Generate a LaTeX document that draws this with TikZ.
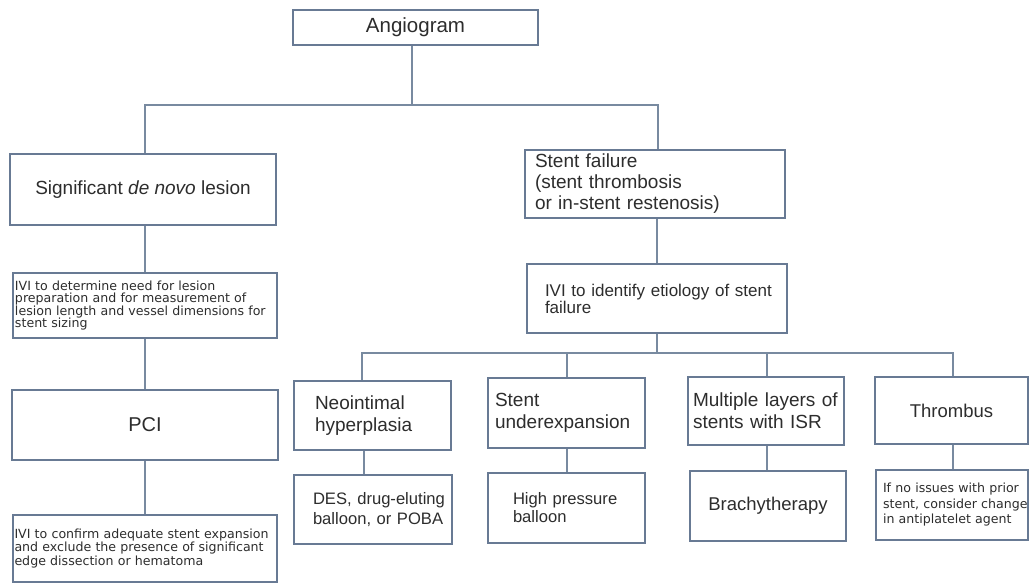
\documentclass[tikz,border=0pt]{standalone}
\usepackage{fontspec}
\setmainfont{Liberation Sans}
\newfontfamily\smallf{DejaVu Sans}
\definecolor{boxc}{RGB}{104,122,148}
\definecolor{linec}{RGB}{120,138,160}
\definecolor{txt}{RGB}{45,45,45}
\tikzset{
  bx/.style={draw=boxc, line width=1.4pt, fill=white, text=txt, inner ysep=0pt},
  cbox/.style 2 args={bx, minimum width=#1, minimum height=#2, inner xsep=0pt, align=center},
  lbox/.style n args={3}{bx, text width=#1, inner xsep=#2, minimum height=#3, align=left},
  conn/.style={draw=linec, line width=1.2pt},
  fmed/.style={font=\fontsize{19}{22}\selectfont},
}
\begin{document}
\begin{tikzpicture}[x=1pt,y=-1pt]
\useasboundingbox[fill=white] (0,0) rectangle (1029,585);
% nodes
\node[cbox={245pt}{35pt}, font=\fontsize{20.5}{22}\selectfont] (ang) at (415.5,27.5) {Angiogram};
\node[cbox={266pt}{71pt}, font=\fontsize{19}{21}\selectfont] (sig) at (143,189.5) {Significant \textit{de novo} lesion};
\node[lbox={260pt}{2pt}{65pt}, font=\smallf\fontsize{12.6}{12.2}\selectfont] (ivi1) at (145,305.5) {IVI to determine need for lesion\\preparation and for measurement of\\lesion length and vessel dimensions for\\stent sizing};
\node[cbox={266pt}{70pt}, font=\fontsize{20}{22}\selectfont] (pci) at (145,425) {PCI};
\node[lbox={261pt}{1.5pt}{67pt}, font=\smallf\fontsize{12.6}{13.2}\selectfont] (ivi2) at (145,548.5) {IVI to confirm adequate stent expansion\\and exclude the presence of significant\\edge dissection or hematoma};
\node[lbox={240pt}{10pt}{68pt}, font=\fontsize{19}{21}\selectfont] (sf) at (655,184) {Stent failure\\(stent thrombosis\\or in-stent restenosis)};
\node[lbox={224pt}{18pt}{69pt}, font=\fontsize{17}{17}\selectfont] (ivi3) at (657,298.5) {\mbox{IVI to identify etiology of stent}\\failure};
\node[lbox={115pt}{21pt}{69pt}, fmed] (neo) at (372.5,415.5) {Neointimal\\hyperplasia};
\node[lbox={120pt}{19pt}{69pt}, font=\fontsize{16.6}{20}\selectfont] (des) at (373,509.5) {\mbox{DES, drug-eluting}\\\mbox{balloon, or POBA}};
\node[lbox={143pt}{7pt}{70pt}, fmed] (und) at (566.5,413) {Stent\\underexpansion};
\node[lbox={107pt}{25pt}{70pt}, font=\fontsize{16.6}{18}\selectfont] (hpb) at (566.5,508) {\mbox{High pressure}\\balloon};
\node[lbox={146pt}{5pt}{68pt}, fmed] (mul) at (766,411) {\mbox{Multiple layers of}\\stents with ISR};
\node[cbox={156pt}{70pt}, font=\fontsize{18.5}{21}\selectfont] (bra) at (768,506) {Brachytherapy};
\node[cbox={153pt}{67pt}, font=\fontsize{18.5}{21}\selectfont] (thr) at (951.5,410.5) {Thrombus};
\node[lbox={138pt}{7pt}{70pt}, font=\smallf\fontsize{12.6}{15.5}\selectfont] (ifno) at (952,505) {\mbox{If no issues with prior}\\\mbox{stent, consider change}\\in antiplatelet agent};
% connectors
\coordinate (t1) at (412,105);
\draw[conn] ([xshift=-3.5pt]ang.south) -- (t1);
\draw[conn] ([xshift=2pt]sig.north) |- ([xshift=3pt]sf.north |- t1) -- ([xshift=3pt]sf.north);
\draw[conn] ([xshift=2pt]sig.south) -- (ivi1.north);
\draw[conn] (ivi1.south) -- (pci.north);
\draw[conn] (pci.south) -- (ivi2.north);
\draw[conn] (ivi3.north |- sf.south) -- (ivi3.north);
\coordinate (t2) at (657,353);
\draw[conn] (ivi3.south) -- (t2);
\coordinate (dn) at (362,353);
\coordinate (du) at (567,353);
\coordinate (dm) at (767,353);
\coordinate (dt) at (953,353);
\draw[conn] (dn |- neo.north) -- (dn) -- (dt) -- (dt |- thr.north);
\draw[conn] (du) -- (du |- und.north);
\draw[conn] (dm) -- (dm |- mul.north);
\draw[conn] ([xshift=-9pt]des.north |- neo.south) -- ([xshift=-9pt]des.north);
\draw[conn] (du |- und.south) -- (du |- hpb.north);
\draw[conn] (dm |- mul.south) -- (dm |- bra.north);
\draw[conn] (dt |- thr.south) -- (dt |- ifno.north);
\end{tikzpicture}
\end{document}
